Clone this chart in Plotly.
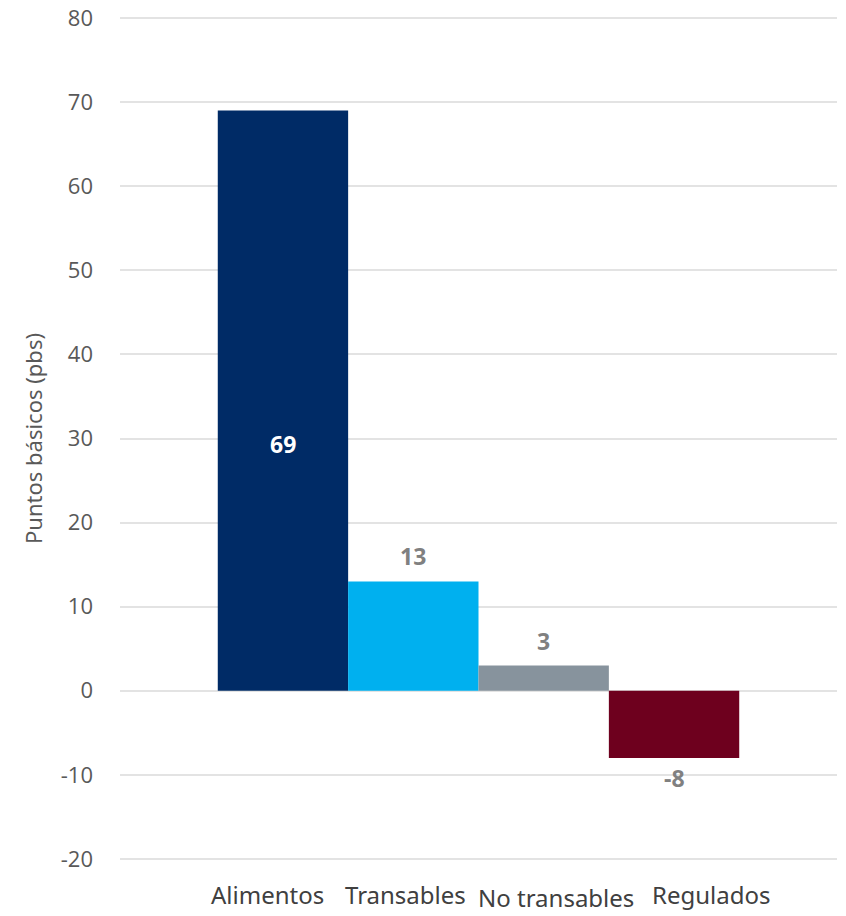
import plotly.graph_objects as go

categories = ["Alimentos", "Transables", "No transables", "Regulados"]
values = [69, 13, 3, -8]
colors = ["#002B66", "#00B0EF", "#87939D", "#6E001E"]
label_colors = ["#FFFFFF", "#808080", "#808080", "#808080"]
yticks = list(range(-20, 90, 10))
yticklabels = [str(t) for t in yticks]

# styling: horizontal/vertical nudges of the category labels (as in the original)
cat_xshift = [-15, -8, 12, 37]
cat_yshift = [-52, -52, -55, -52]

x = list(range(len(categories)))

fig = go.Figure()
fig.add_trace(go.Bar(
    x=x, y=values, width=1.0,
    marker=dict(color=colors, line=dict(width=0)),
    hoverinfo="skip",
))

lab_font = lambda c: dict(family="Open Sans", size=23, color=c, weight="bold")
for i, v in enumerate(values):
    if i == 0:
        fig.add_annotation(x=i, y=v / 2, text=str(v), showarrow=False, yshift=-43,
                           font=lab_font(label_colors[i]))
    elif v >= 0:
        fig.add_annotation(x=i, y=v, text=str(v), showarrow=False, yshift=25,
                           font=lab_font(label_colors[i]))
    else:
        fig.add_annotation(x=i, y=v, text=str(v), showarrow=False, yshift=-20,
                           font=lab_font(label_colors[i]))

for i, c in enumerate(categories):
    fig.add_annotation(x=i, y=0, yref="paper", text=c, showarrow=False,
                       xshift=cat_xshift[i], yshift=cat_yshift[i],
                       font=dict(family="Noto Sans", size=24, color="#404040"))

fig.update_layout(
    width=846, height=916,
    margin=dict(l=120, r=9, t=16, b=55),
    plot_bgcolor="white", paper_bgcolor="white",
    showlegend=False,
    xaxis=dict(
        range=[-1.25, 4.25], tickmode="array", tickvals=x, ticktext=[""] * len(x),
        showgrid=False, zeroline=False, showline=False, ticks="",
        automargin=False,
    ),
    yaxis=dict(
        range=[-20.25, 80.25], tickmode="array", tickvals=yticks, ticktext=yticklabels,
        showgrid=True, gridcolor="#E3E3E3", gridwidth=2,
        zeroline=False, showline=False, ticks="",
        tickfont=dict(family="Open Sans", size=22, color="#595959"),
        ticklabelstandoff=26, automargin=False,
        title=dict(text="Puntos básicos (pbs)", standoff=12,
                   font=dict(family="Noto Sans", size=22, color="#595959")),
    ),
)

fig.write_html("out.html")
